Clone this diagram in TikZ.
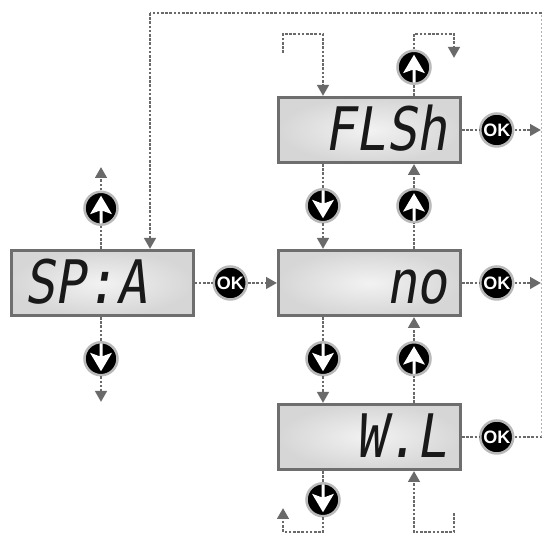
\documentclass[tikz,border=0pt]{standalone}
\usepackage{fontspec}
\usetikzlibrary{arrows.meta, positioning}
\newfontfamily\lcdfont[FakeSlant=0.16, FakeStretch=0.85]{DejaVu Sans Mono}
\newfontfamily\okfont[BoldFont={Liberation Sans Bold}]{Liberation Sans}
\definecolor{linegray}{HTML}{6A6A6A}
\definecolor{framegray}{HTML}{6E6E6E}

\begin{document}
\begin{tikzpicture}[
        x=1pt, y=1pt,
        node distance=17pt and 17pt,
        lcd/.style={draw=framegray, line width=3pt, inner xsep=13pt, inner ysep=0pt,
                    minimum width=182pt, minimum height=65pt, text width=156pt,
                    text height=42pt, text depth=0pt, font=\lcdfont\fontsize{60pt}{60pt}\selectfont,
                    text=black!90, inner color=gray!10, outer color=gray!32},
        btn/.style={circle, draw=gray!55, line width=2.5pt, fill=black, minimum size=33pt,
                    inner sep=0pt, text=white, font=\okfont\bfseries\fontsize{18pt}{18pt}\selectfont},
        upbtn/.style={btn, path picture={
                \fill[white, shift={(path picture bounding box.center)}]
                    (0,12.5) -- (11,-6) -- (1.5,-2.5) -- (1.5,-17) -- (-1.5,-17)
                    -- (-1.5,-2.5) -- (-11,-6) -- cycle;}},
        downbtn/.style={btn, path picture={
                \fill[white, shift={(path picture bounding box.center)}]
                    (0,-12.5) -- (11,6) -- (1.5,2.5) -- (1.5,17) -- (-1.5,17)
                    -- (-1.5,2.5) -- (-11,6) -- cycle;}},
        flowline/.style={draw=linegray, line width=2.8pt, dash pattern=on 2.6pt off 1.6pt},
        flow/.style={flowline, -{Triangle[length=11pt, width=11.5pt, fill=linegray]}},
        faintline/.style={draw=gray!60, line width=1pt, dash pattern=on 2.2pt off 1.8pt}
    ]
        \useasboundingbox (0,0) rectangle (542,534);

        % displays
        \node[lcd, align=right] (no) at (369.5,251) {no};
        \node[lcd, align=right, above=85pt of no] (flsh) {FLSh};
        \node[lcd, align=right, below=86pt of no] (wl) {W.L};
        \node[lcd, align=left] (spa) at (102,251) {SP:A};

        % buttons
        \node[upbtn, above=23pt of spa.north, xshift=-1pt] (spaup) {};
        \node[downbtn, below=24pt of spa.south, xshift=-1pt] (spadown) {};
        \node[btn, right=18pt of spa] (spaok) {OK};
        \node[upbtn, above=11pt of flsh.north, xshift=44.5pt] (flshup) {};
        \node[btn, right=of flsh] (flshok) {OK};
        \node[downbtn, below=24pt of flsh.south, xshift=-46.5pt] (flshdown) {};
        \node[upbtn, below=24pt of flsh.south, xshift=44.5pt] (noup) {};
        \node[btn, right=of no] (nook) {OK};
        \node[downbtn, below=24pt of no.south, xshift=-46.5pt] (nodown) {};
        \node[upbtn, below=24pt of no.south, xshift=44.5pt] (wlup) {};
        \node[btn, right=of wl] (wlok) {OK};
        \node[downbtn, below=11pt of wl.south, xshift=-46.5pt] (wldown) {};

        % free ends
        \coordinate (spaupend) at (101,367);
        \coordinate (spadownend) at (101,132);
        \coordinate (rightend) at (541,251);
        \coordinate (rightrail) at (541.5,251);
        \coordinate (fbcorner) at (541.5,521);
        \coordinate (fbdrop) at (150,521);
        \coordinate (loopa) at (283,481);
        \coordinate (loopb) at (323,500);
        \coordinate (loopc) at (454,500);
        \coordinate (loopd) at (454,476);
        \coordinate (loope) at (283,2);
        \coordinate (loopf) at (283,26);
        \coordinate (loopg) at (454,21);
        \coordinate (looph) at (414,2);

        % left display
        \draw[flowline] (spa.north -| spaup) -- (spaup.south);
        \draw[flow] (spaup.north) -- (spaupend);
        \draw[flowline] (spa.south -| spadown) -- (spadown.north);
        \draw[flow] (spadown.south) -- (spadownend);
        \draw[flowline] (spa.east) -- (spaok.west);
        \draw[flow] (spaok.east) -- (no.west);

        % up and down between displays
        \draw[flowline] (flsh.south -| flshdown) -- (flshdown.north);
        \draw[flow] (flshdown.south) -- (no.north -| flshdown);
        \draw[flowline] (no.north -| noup) -- (noup.south);
        \draw[flow] (noup.north) -- (flsh.south -| noup);
        \draw[flowline] (no.south -| nodown) -- (nodown.north);
        \draw[flow] (nodown.south) -- (wl.north -| nodown);
        \draw[flowline] (wl.north -| wlup) -- (wlup.south);
        \draw[flow] (wlup.north) -- (no.south -| wlup);

        % loops at top and bottom
        \draw[flow] (loopa) |- (loopb) -- (flsh.north -| loopb);
        \draw[flowline] (flsh.north -| flshup) -- (flshup.south);
        \draw[flow] (flshup.north) |- (loopc) -- (loopd);
        \draw[flowline] (wl.south -| wldown) -- (wldown.north);
        \draw[flow] (wldown.south) |- (loope) -- (loopf);
        \draw[flow] (loopg) |- (looph) -- (wl.south -| looph);

        % OK exits and return
        \draw[flowline] (flsh.east) -- (flshok.west);
        \draw[flow] (flshok.east) -- (flshok -| rightend);
        \draw[flowline] (no.east) -- (nook.west);
        \draw[flow] (nook.east) -- (nook -| rightend);
        \draw[flowline] (wl.east) -- (wlok.west);
        \draw[flowline] (wlok.east) -- (wlok -| rightrail);
        \draw[faintline] (wlok -| rightrail) -- (fbcorner);
        \draw[flowline] (fbcorner) -- (fbdrop);
        \draw[flow] (fbdrop) -- (spa.north -| fbdrop);
    \end{tikzpicture}
\end{document}
